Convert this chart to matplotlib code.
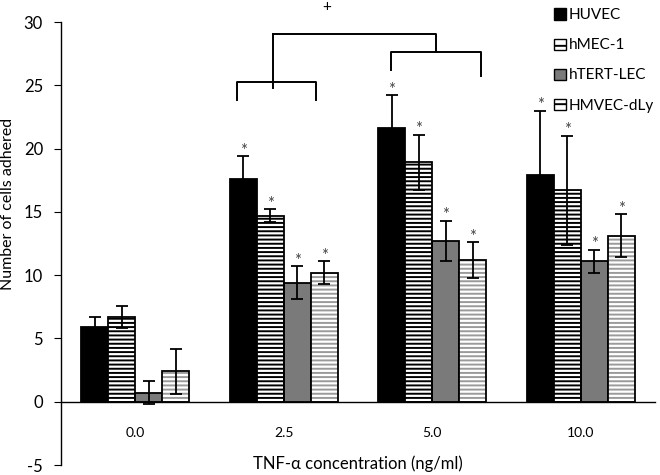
import matplotlib
matplotlib.use("Agg")
import matplotlib.pyplot as plt
import numpy as np
from matplotlib.patches import Patch

plt.rcParams['font.family'] = ['Lato', 'DejaVu Sans']
plt.rcParams['hatch.linewidth'] = 1.4

categories = ["0.0", "2.5", "5.0", "10.0"]
series = ["HUVEC", "hMEC-1", "hTERT-LEC", "HMVEC-dLy"]
values = {
    "HUVEC":     [5.9, 17.6, 21.6, 17.9],
    "hMEC-1":    [6.7, 14.7, 18.9, 16.7],
    "hTERT-LEC": [0.7, 9.4, 12.7, 11.1],
    "HMVEC-dLy": [2.4, 10.2, 11.2, 13.1],
}
errors = {
    "HUVEC":     [0.8, 1.8, 2.6, 5.1],
    "hMEC-1":    [0.9, 0.5, 2.2, 4.3],
    "hTERT-LEC": [0.9, 1.3, 1.6, 0.9],
    "HMVEC-dLy": [1.8, 0.9, 1.4, 1.7],
}
stars = {
    "HUVEC":     [False, True, True, True],
    "hMEC-1":    [False, True, True, True],
    "hTERT-LEC": [False, True, True, True],
    "HMVEC-dLy": [False, True, True, True],
}
yticks = [-5, 0, 5, 10, 15, 20, 25, 30]

styles = {
    "HUVEC":     dict(face="black", hatch=None, hatchcol="black"),
    "hMEC-1":    dict(face="white", hatch="----", hatchcol="black"),
    "hTERT-LEC": dict(face="#7a7a7a", hatch=None, hatchcol="black"),
    "HMVEC-dLy": dict(face="white", hatch="----", hatchcol="#9a9a9a"),
}

fig = plt.figure(figsize=(6.6, 4.75), dpi=100)
ax = fig.add_axes([61/660, 10/475, 594/660, 443/475])

x = np.arange(len(categories))
bw = 27/148.5
offsets = [-1.5, -0.5, 0.5, 1.5]

for s, off in zip(series, offsets):
    st = styles[s]
    pos = x + off*bw
    if st["hatch"]:
        ax.bar(pos, values[s], bw, color=st["face"], edgecolor=st["hatchcol"],
               hatch=st["hatch"], linewidth=0, zorder=2)
        ax.bar(pos, values[s], bw, fill=False, edgecolor="black", linewidth=1.3, zorder=3)
    else:
        ax.bar(pos, values[s], bw, color=st["face"], edgecolor="black", linewidth=1.3, zorder=2)
    ax.errorbar(pos, values[s], yerr=errors[s], fmt="none", ecolor="black",
                elinewidth=1.3, capsize=4, capthick=1.3, zorder=4)
    for p, v, e, flag in zip(pos, values[s], errors[s], stars[s]):
        if flag:
            ax.text(p, v + e - 0.2, "*", ha="center", va="bottom", fontsize=12,
                    color="#444444", zorder=5)

# significance brackets
def px2x(px):
    return (px - 135) / 148.5

def py2y(py):
    return (402 - py) / 12.67

lw = 1.4
ax.plot([px2x(237), px2x(237), px2x(316), px2x(316)],
        [py2y(100), py2y(82), py2y(82), py2y(100)], color="black", lw=lw, clip_on=False)
ax.plot([px2x(273), px2x(273)], [py2y(88), py2y(34)], color="black", lw=lw, clip_on=False)
ax.plot([px2x(273), px2x(436), px2x(436)], [py2y(34), py2y(34), py2y(52)],
        color="black", lw=lw, clip_on=False)
ax.plot([px2x(391), px2x(391), px2x(481), px2x(481)],
        [py2y(70), py2y(52), py2y(52), py2y(76)], color="black", lw=lw, clip_on=False)
ax.text(px2x(326), py2y(7), "+", ha="center", va="center", fontsize=11, clip_on=False)

ax.set_xlim(-0.5, len(categories) - 0.5)
ax.set_ylim(-5, 30)
ax.set_yticks(yticks)
ax.set_yticklabels([str(t) for t in yticks], fontsize=12)
ax.set_xticks(x)
ax.set_xticklabels(categories, fontsize=12)
ax.spines['top'].set_visible(False)
ax.spines['right'].set_visible(False)
ax.spines['bottom'].set_position(('data', 0))
ax.spines['left'].set_linewidth(1.0)
ax.spines['bottom'].set_linewidth(1.0)
ax.tick_params(axis='x', length=0, pad=18)
ax.tick_params(axis='y', direction='out', length=5, pad=8)
ax.set_xlabel("TNF-α concentration (ng/ml)", fontsize=12, labelpad=12)
ax.set_ylabel("Number of cells adhered", fontsize=11.5)
ax.yaxis.set_label_coords(-0.077, 0.59)

handles = []
for s in series:
    st = styles[s]
    handles.append(Patch(facecolor=st["face"], edgecolor="black",
                         hatch="--" if st["hatch"] else None, linewidth=1.0))
leg = fig.legend(handles, series, loc="upper left", bbox_to_anchor=(546/660, 1.0),
                 frameon=False, fontsize=11, handlelength=0.75, handleheight=0.75,
                 handletextpad=0.2, labelspacing=1.05, borderaxespad=0.15)

fig.savefig("out.png", dpi=100)
